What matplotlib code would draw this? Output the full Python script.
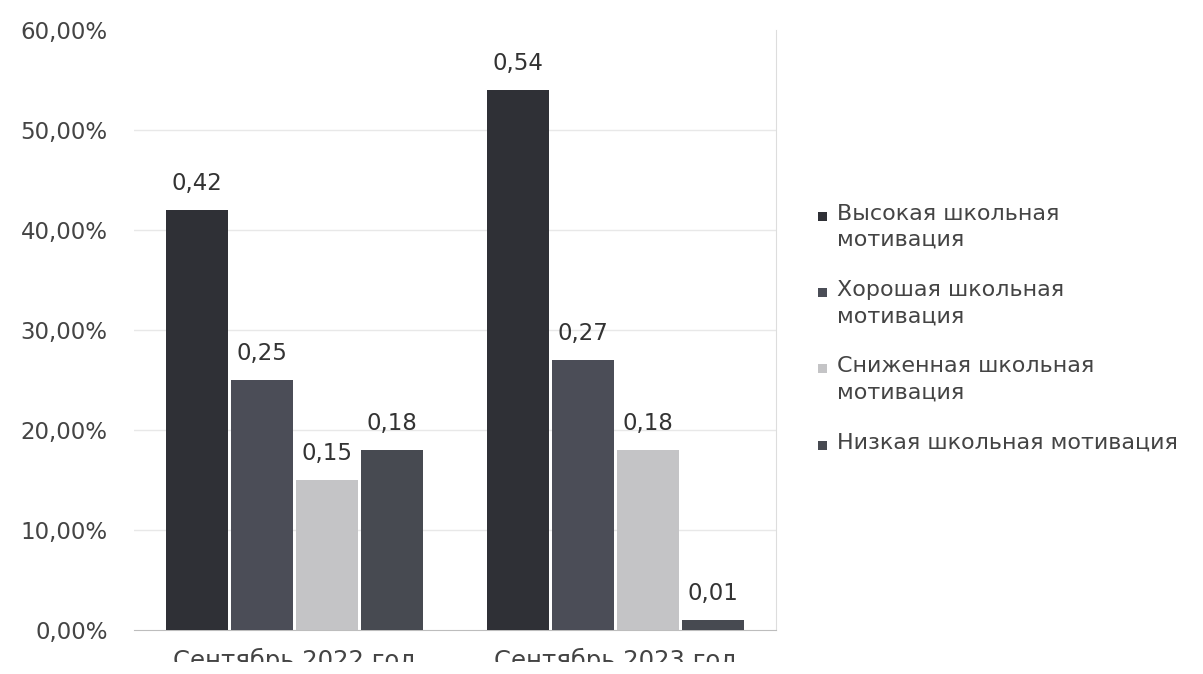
import matplotlib
matplotlib.use('Agg')
import matplotlib.pyplot as plt
import matplotlib.patches as mpatches
import numpy as np

# ─── Data ───
categories = ['Сентябрь 2022 год', 'Сентябрь 2023 год']
series_names = ['Высокая школьная\nмотивация', 'Хорошая школьная\nмотивация',
                'Сниженная школьная\nмотивация', 'Низкая школьная мотивация']
high = [0.42, 0.54]
good = [0.25, 0.27]
reduced = [0.15, 0.18]
low = [0.18, 0.01]
yticks = [0.0, 0.1, 0.2, 0.3, 0.4, 0.5, 0.6]

series = [high, good, reduced, low]
colors = ['#2f3036', '#4b4d57', '#c4c4c6', '#474a51']

plt.rcParams['font.family'] = ['DejaVu Sans']

fig = plt.figure(figsize=(12.03, 6.74), dpi=100)
fig.patch.set_facecolor('white')
ax = fig.add_axes([0.1114, 0.0653, 0.5336, 0.8902])

x = np.arange(len(categories))
w = 0.193
offsets = (np.arange(4) - 1.5) * (w + 0.009)

for vals, off, c in zip(series, offsets, colors):
    bars = ax.bar(x + off, vals, width=w, color=c, zorder=3)
    for b, v in zip(bars, vals):
        ax.annotate(f'{v:.2f}'.replace('.', ','), (b.get_x() + b.get_width() / 2, v),
                    xytext=(0, 11), textcoords='offset points',
                    ha='center', va='bottom', fontsize=16.5, color='#333333')

ax.set_xlim(-0.5, 1.5)
ax.set_ylim(0, 0.6)
ax.set_yticks(yticks)
ax.set_yticklabels([f'{t*100:.2f}%'.replace('.', ',') for t in yticks],
                   fontsize=16.5, color='#444444')
ax.tick_params(axis='y', length=0, pad=19)
ax.set_xticks(x)
ax.set_xticklabels(categories, fontsize=17.5, color='#444444')
ax.tick_params(axis='x', length=0, pad=13)

for t in yticks[1:-1]:
    ax.axhline(t, color='#e8e8e8', linewidth=1, zorder=1)

for s in ['top', 'left']:
    ax.spines[s].set_visible(False)
ax.spines['bottom'].set_color('#bdbdbd')
ax.spines['right'].set_color('#dddddd')

# legend drawn by hand so the marker sits on the first text line
leg_x, leg_y0, leg_step = 818 / 1203, 1 - 216 / 674, 76.5 / 674
sq_w, sq_h = 9 / 1203, 9 / 674
for i, (name, c) in enumerate(zip(series_names, colors)):
    yc = leg_y0 - i * leg_step
    fig.patches.append(mpatches.Rectangle((leg_x, yc - sq_h / 2), sq_w, sq_h,
                                          transform=fig.transFigure, facecolor=c,
                                          edgecolor='none'))
    fig.text(leg_x + 19 / 1203, yc + 12.5 / 674, name, ha='left', va='top',
             fontsize=16, color='#444444', linespacing=1.4)

# the scan cuts off the lower half of the category labels
fig.patches.append(mpatches.Rectangle((0, 0), 1, 12 / 674, transform=fig.transFigure,
                                      facecolor='white', edgecolor='none', zorder=10))

fig.savefig('out.png', dpi=100, facecolor='white')
